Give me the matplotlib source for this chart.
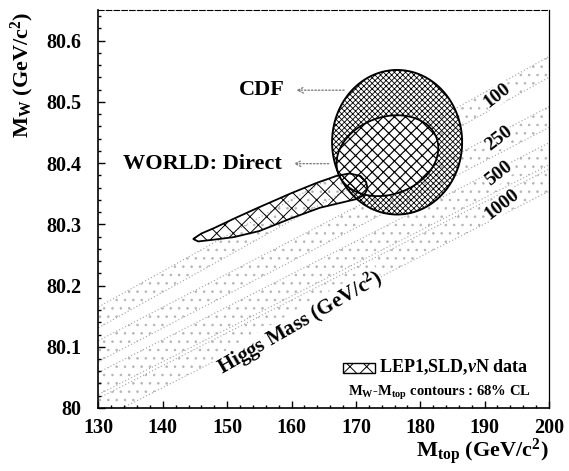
import numpy as np
import matplotlib
matplotlib.use("Agg")
import matplotlib.pyplot as plt
from matplotlib.patches import Polygon, Rectangle
from matplotlib.ticker import MultipleLocator, FixedLocator, FixedFormatter

# ---- Standard Model Higgs-mass bands: M_W at the two ends of the M_top range
higgs_masses = ["100", "250", "500", "1000"]
band_mtop_ends = [130.0, 200.0]
band_mw_left = [80.148, 80.093, 80.040, 79.998]
band_mw_right = [80.557, 80.475, 80.415, 80.372]
band_half_width = [0.017, 0.017, 0.018, 0.018]
band_label_mtop = [192.0, 192.2, 192.2, 192.7]
band_label_shift = [0.0, 0.008, 0.010, 0.0]

# ---- CDF direct measurement, 68% CL contour
cdf_center = (176.4, 80.434)
cdf_semi_axes = (10.1, 0.118)

# ---- World average of direct measurements, 68% CL contour
world_center = (174.9, 80.412)
world_semi_axes = (7.76, 0.066)
world_shear = 1.5

# ---- Indirect (LEP1, SLD, nuN) contour outline
lep_upper_mtop = [144.7, 146.0, 148.0, 151.0, 155.0, 160.0, 164.0, 167.0, 169.0, 170.7, 171.6, 171.8]
lep_upper_mw = [80.276, 80.285, 80.294, 80.309, 80.328, 80.351, 80.368, 80.379, 80.383, 80.379, 80.369, 80.358]
lep_lower_mtop = [171.3, 170.0, 168.0, 164.4, 160.0, 155.0, 151.0, 148.0, 145.5]
lep_lower_mw = [80.348, 80.341, 80.336, 80.327, 80.310, 80.289, 80.279, 80.275, 80.272]

# ---- axes ticks
x_ticks = [130, 140, 150, 160, 170, 180, 190, 200]
x_tick_labels = ["130", "140", "150", "160", "170", "180", "190", "200"]
y_ticks = [80.0, 80.1, 80.2, 80.3, 80.4, 80.5, 80.6]
y_tick_labels = ["80", "80.1", "80.2", "80.3", "80.4", "80.5", "80.6"]

plt.rcParams["font.family"] = ["Liberation Serif", "DejaVu Serif"]
plt.rcParams["font.weight"] = "bold"
plt.rcParams["mathtext.fontset"] = "custom"
plt.rcParams["mathtext.rm"] = "Liberation Serif:bold"
plt.rcParams["mathtext.it"] = "Liberation Serif:bold:italic"
plt.rcParams["mathtext.bf"] = "Liberation Serif:bold"
plt.rcParams["hatch.linewidth"] = 0.6

fig = plt.figure(figsize=(5.69, 4.71), dpi=100)
ax = fig.add_axes([0.1731, 0.1338, 0.7917, 0.845])
ax.set_xlim(130, 200)
ax.set_ylim(80.0, 80.65)

# Higgs-mass bands (stippled strips)
for mh, yl, yr, hw, lx, ls in zip(higgs_masses, band_mw_left, band_mw_right,
                                   band_half_width, band_label_mtop, band_label_shift):
    xs = np.array(band_mtop_ends)
    ys = np.array([yl, yr])
    poly = Polygon([(xs[0], ys[0] - hw), (xs[1], ys[1] - hw),
                    (xs[1], ys[1] + hw), (xs[0], ys[0] + hw)],
                   closed=True, facecolor="none", edgecolor="#b4b4b4",
                   hatch="..", linewidth=0, zorder=1)
    ax.add_patch(poly)
    for s in (-1, 1):
        ax.plot(xs, ys + s * hw, color="#a0a0a0", lw=0.8, ls=(0, (1, 2)), zorder=1)
    slope = (yr - yl) / (xs[1] - xs[0])
    ly = yl + slope * (lx - xs[0]) + ls
    ax.text(lx, ly, mh, fontsize=14, rotation=38, ha="center", va="center",
            zorder=6, bbox=dict(facecolor="white", edgecolor="none", pad=0.5))

t = np.linspace(0, 2 * np.pi, 300)

# CDF contour
cdf_x = cdf_center[0] + cdf_semi_axes[0] * np.cos(t)
cdf_y = cdf_center[1] + cdf_semi_axes[1] * np.sin(t)
ax.add_patch(Polygon(np.column_stack([cdf_x, cdf_y]), closed=True, facecolor="none",
                     edgecolor="black", hatch="x" * 6, linewidth=1.4, zorder=3))

# World direct contour (heavier, coarser hatching)
plt.rcParams["hatch.linewidth"] = 0.85
w_x = world_center[0] + world_semi_axes[0] * np.cos(t) + world_shear * np.sin(t)
w_y = world_center[1] + world_semi_axes[1] * np.sin(t)
ax.add_patch(Polygon(np.column_stack([w_x, w_y]), closed=True, facecolor="white",
                     edgecolor="black", hatch="xxx", linewidth=1.3, zorder=4))

# LEP1/SLD/nuN contour
plt.rcParams["hatch.linewidth"] = 0.7
lep_x = lep_upper_mtop + lep_lower_mtop
lep_y = lep_upper_mw + lep_lower_mw
ax.add_patch(Polygon(np.column_stack([lep_x, lep_y]), closed=True, facecolor="none",
                     edgecolor="black", hatch="xx", linewidth=1.3, zorder=5))

# labels with arrows
arrow_kw = dict(arrowstyle="->", color="#808080", lw=1.0, linestyle=(0, (1, 1.5)))
ax.text(155.4, 80.519, "CDF", fontsize=16, ha="center", va="center", zorder=6)
ax.annotate("", xy=(160.3, 80.519), xytext=(168.6, 80.519), arrowprops=arrow_kw, zorder=6)
ax.text(146.2, 80.399, "WORLD: Direct", fontsize=16, ha="center", va="center", zorder=6)
ax.annotate("", xy=(159.9, 80.399), xytext=(166.2, 80.399), arrowprops=arrow_kw, zorder=6)

ax.text(161.3, 80.138, "Higgs Mass (GeV/c$^{2}$)", fontsize=15, rotation=30,
        ha="center", va="center", zorder=6,
        bbox=dict(facecolor="white", edgecolor="none", pad=0.1))

# legend
ax.add_patch(Rectangle((168.0, 80.057), 5.0, 0.017, facecolor="none", edgecolor="black",
                       hatch="xx", linewidth=1.0, zorder=6))
ax.text(173.6, 80.066, r"LEP1,SLD,$\nu$N data", fontsize=13, ha="left", va="center", zorder=6)
ax.text(183.0, 80.025, r"M$_{\rm W}$-M$_{\rm top}$ contours : 68% CL", fontsize=10.5,
        ha="center", va="center", zorder=6)

# axes styling
ax.xaxis.set_major_locator(FixedLocator(x_ticks))
ax.xaxis.set_major_formatter(FixedFormatter(x_tick_labels))
ax.yaxis.set_major_locator(FixedLocator(y_ticks))
ax.yaxis.set_major_formatter(FixedFormatter(y_tick_labels))
ax.xaxis.set_minor_locator(MultipleLocator(2))
ax.yaxis.set_minor_locator(MultipleLocator(0.02))
ax.tick_params(which="both", direction="in", top=False, right=False, width=1.0)
ax.tick_params(which="major", length=5, labelsize=14.5)
ax.tick_params(axis="y", which="major", pad=12)
ax.tick_params(axis="x", which="major", pad=7)
ax.tick_params(which="minor", length=2.5)
for lab in ax.get_xticklabels() + ax.get_yticklabels():
    lab.set_fontweight("bold")

ax.spines["left"].set_linewidth(1.2)
ax.spines["bottom"].set_linewidth(1.2)
ax.spines["right"].set_linewidth(0.9)
ax.spines["top"].set_linewidth(0.8)
ax.spines["top"].set_linestyle((0, (5, 2)))

ax.text(1.0, -0.11, r"M$_{\rm top}$ (GeV/c$^{\rm 2}$)", transform=ax.transAxes,
        fontsize=16, ha="right", va="center")
ax.text(-0.17, 0.995, r"M$_{\rm W}$ (GeV/c$^{\rm 2}$)", transform=ax.transAxes,
        fontsize=16, ha="center", va="top", rotation=90)

fig.savefig("out.png", dpi=100)
